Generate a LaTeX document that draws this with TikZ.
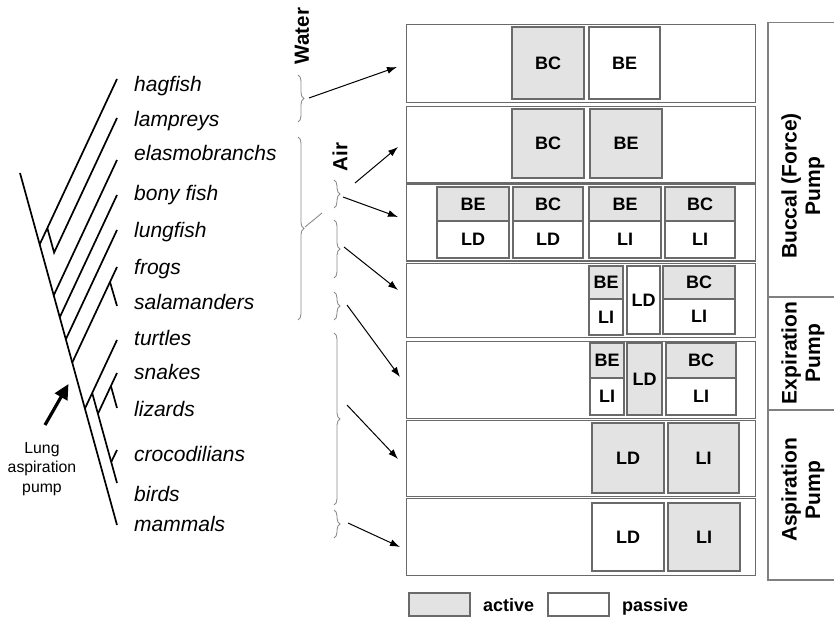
\documentclass[tikz,border=0pt]{standalone}
\usepackage{fontspec}
\setmainfont{Liberation Sans}
\usetikzlibrary{arrows.meta,decorations.pathreplacing,calc}
\definecolor{actfill}{HTML}{E3E3E3}
\definecolor{edgegray}{HTML}{6A6A6A}
\definecolor{bracegray}{HTML}{8C8C8C}
\definecolor{panelgray}{HTML}{808080}

% filled cell with a centred bold label: name, x1, y1, x2, y2, style, text
\newcommand\cellbox[7]{%
  \path[#6] (#2,#3) rectangle (#4,#5);
  \node[celltext] (#1) at ($(#2,#3)!0.5!(#4,#5)$) {#7};}

\begin{document}
\begin{tikzpicture}[x=1pt,y=-1pt,
  tree/.style={line width=1.7pt,black},
  rowbox/.style={draw=edgegray,line width=1.3pt,fill=white},
  actbox/.style={draw=edgegray,line width=1.2pt,fill=actfill},
  pasbox/.style={draw=edgegray,line width=1.2pt,fill=white},
  celltext/.style={font=\bfseries\fontsize{18}{20}\selectfont,inner sep=0pt},
  species/.style={font=\itshape\fontsize{21}{25}\selectfont,anchor=base west,inner sep=0pt},
  pointer/.style={-{Latex[length=10pt,width=7pt]},line width=1pt},
  grp/.style={draw=bracegray,line width=0.9pt,decorate,decoration={brace,amplitude=6pt}},
  medium/.style={font=\bfseries\fontsize{20.5}{22}\selectfont,rotate=90,inner sep=0pt},
  pumplabel/.style={font=\bfseries\fontsize{21}{23.5}\selectfont,rotate=90,align=center,inner sep=0pt},
  panel/.style={draw=panelgray,line width=1.1pt}]

\useasboundingbox (0,0) rectangle (834,617);

% ---------- phylogeny ----------
\coordinate (root) at (20,173);
\coordinate (tMam) at (117,525);
\draw[tree] (root) -- (tMam);
% cyclostomes
\draw[tree] (39.7,244.4) -- (117,79);
\draw[tree] (47.3,228) -- (54.1,252.6) -- (117,118);
% jawed fishes and amphibians
\draw[tree] (53.7,295.4) -- (117,160);
\draw[tree] (59.7,317.4) -- (117,195);
\draw[tree] (65.8,339.4) -- (117,230);
\draw[tree] (72.2,362.7) -- (117,267);
\draw[tree] (110,282) -- (117,306);
% amniotes
\draw[tree] (84.9,408.6) -- (117,340);
\draw[tree] (92.2,393) -- (117,483);
\draw[tree] (97.9,413.8) -- (117,373);
\draw[tree] (110.9,386) -- (117,408);
\draw[tree] (111.2,462) -- (117,450);

% lung aspiration marker
\coordinate (lungtail) at (45,425);
\coordinate (lunghead) at (68.5,384);
\draw[line width=3.2pt,-{Triangle[length=15pt,width=14pt]}] (lungtail) -- (lunghead);
\node[align=center,font=\fontsize{15.8}{19.5}\selectfont,inner sep=0pt] (lungtxt) at (42,469) {Lung\\aspiration\\pump};

% taxon names
\node[species] (hag) at (134,91.5) {hagfish};
\node[species] (lam) at (134,126.5) {lampreys};
\node[species] (ela) at (134,160.5) {elasmobranchs};
\node[species] (bon) at (134,201) {bony fish};
\node[species] (lun) at (134,238) {lungfish};
\node[species] (fro) at (134,274.5) {frogs};
\node[species] (sal) at (134,309.5) {salamanders};
\node[species] (tur) at (134,345.5) {turtles};
\node[species] (sna) at (134,379) {snakes};
\node[species] (liz) at (134,416.5) {lizards};
\node[species] (cro) at (134,461.5) {crocodilians};
\node[species] (bir) at (134,501.5) {birds};
\node[species] (mam) at (134,531.5) {mammals};

% ---------- medium groups ----------
\draw[grp] (298,75) -- (298,122);
\draw[grp] (298,137) -- (298,320);
\draw[grp] (334,180) -- (334,208);
\draw[grp] (334,220) -- (334,278);
\draw[grp] (334,292) -- (334,320);
\draw[grp] (334,333) -- (334,505);
\draw[grp] (334,510) -- (334,538);

\node[medium] (water) at (302,36) {Water};
\node[medium] (air) at (340,157) {Air};

\coordinate (gWater) at (309,98);
\coordinate (gAirTip) at (305,227);
\coordinate (gAirEnd) at (322,213);
\coordinate (gA) at (355,183);
\coordinate (gB) at (343,197);
\coordinate (gC) at (344,247);
\coordinate (gD) at (347,305);
\coordinate (gE) at (347,405);
\coordinate (gF) at (348,523);
\draw[draw=bracegray,line width=0.9pt] (gAirTip) -- (gAirEnd);

% ---------- ventilation rows ----------
\node[rowbox,minimum width=349,minimum height=78,anchor=north west] (row1) at (406,24) {};
\node[rowbox,minimum width=349,minimum height=76,anchor=north west] (row2) at (406,106) {};
\node[rowbox,minimum width=349,minimum height=77,anchor=north west] (row3) at (406,183.5) {};
\node[rowbox,minimum width=349,minimum height=74,anchor=north west] (row4) at (406,263) {};
\node[rowbox,minimum width=349,minimum height=77,anchor=north west] (row5) at (406,341) {};
\node[rowbox,minimum width=349,minimum height=76,anchor=north west] (row6) at (406,420) {};
\node[rowbox,minimum width=349,minimum height=77,anchor=north west] (row7) at (406,498) {};

% row 1
\cellbox{r1bc}{512}{27}{584}{99}{actbox}{BC}
\cellbox{r1be}{589}{27}{660}{99}{pasbox}{BE}
% row 2
\cellbox{r2bc}{512}{109}{584}{178}{actbox}{BC}
\cellbox{r2be}{590}{109}{662}{178}{actbox}{BE}
% row 3
\cellbox{r3a}{437}{187}{509}{221}{actbox}{BE}
\cellbox{r3b}{437}{221}{509}{258}{pasbox}{LD}
\cellbox{r3c}{513}{187}{583}{221}{actbox}{BC}
\cellbox{r3d}{513}{221}{583}{258}{pasbox}{LD}
\cellbox{r3e}{589}{187}{661}{221}{actbox}{BE}
\cellbox{r3f}{589}{221}{661}{258}{pasbox}{LI}
\cellbox{r3g}{665}{187}{735}{221}{actbox}{BC}
\cellbox{r3h}{665}{221}{735}{258}{pasbox}{LI}
% row 4
\cellbox{r4a}{589}{266}{623}{299}{actbox}{BE}
\cellbox{r4b}{589}{299}{623}{335}{pasbox}{LI}
\cellbox{r4c}{627}{266}{660}{334}{pasbox}{LD}
\cellbox{r4d}{663}{266}{735}{299}{actbox}{BC}
\cellbox{r4e}{663}{299}{735}{334}{pasbox}{LI}
% row 5
\cellbox{r5a}{590}{343}{624}{378}{actbox}{BE}
\cellbox{r5b}{590}{378}{624}{415}{pasbox}{LI}
\cellbox{r5c}{627}{343}{662}{415}{actbox}{LD}
\cellbox{r5d}{666}{343}{736}{378}{actbox}{BC}
\cellbox{r5e}{666}{378}{736}{415}{pasbox}{LI}
% row 6
\cellbox{r6a}{592}{423}{664}{493}{actbox}{LD}
\cellbox{r6b}{668}{423}{739}{493}{actbox}{LI}
% row 7
\cellbox{r7a}{592}{503}{664}{571}{pasbox}{LD}
\cellbox{r7b}{668}{503}{740}{571}{actbox}{LI}

% arrows from groups to rows
\coordinate (in1) at (397,67);
\coordinate (in2) at (398,147);
\coordinate (in3) at (398,217);
\coordinate (in4) at (398,290);
\coordinate (in5) at (400,377);
\coordinate (in6) at (398,459);
\coordinate (in7) at (400,547);
\draw[pointer] (gWater) -- (in1);
\draw[pointer] (gA) -- (in2);
\draw[pointer] (gB) -- (in3);
\draw[pointer] (gC) -- (in4);
\draw[pointer] (gD) -- (in5);
\draw[pointer] (gE) -- (in6);
\draw[pointer] (gF) -- (in7);

% ---------- pump types ----------
\draw[panel] (834,22.6) -- (768,22.6) -- (768,580) -- (834,580);
\draw[panel] (768,297) -- (834,297);
\draw[panel] (768,410) -- (834,410);
\node[pumplabel] (buccal) at (803,186) {Buccal (Force)\\Pump};
\node[pumplabel] (expir) at (803,353) {Expiration\\Pump};
\node[pumplabel] (aspir) at (803,490) {Aspiration\\Pump};

% ---------- legend ----------
\path[actbox] (409,593) rectangle (470,616);
\node[celltext,anchor=base west] (active) at (483,611.5) {active};
\path[pasbox] (548,593) rectangle (609,616);
\node[celltext,anchor=base west] (passive) at (622,611.5) {passive};
\end{tikzpicture}
\end{document}
